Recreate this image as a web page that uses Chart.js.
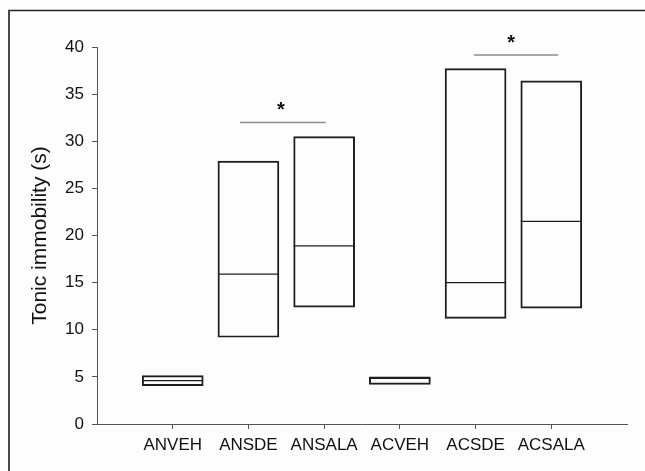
<!DOCTYPE html>
<html>
<head>
<meta charset="utf-8">
<script src="https://cdn.jsdelivr.net/npm/chart.js@4/dist/chart.umd.min.js"></script>
<style>
  html, body { margin: 0; padding: 0; background: #fdfdfd; overflow: hidden; }
  #wrap { width: 645px; height: 471px; position: relative; }
  #c { display: block; }
</style>
</head>
<body>
<div id="wrap"><canvas id="c" width="645" height="471"></canvas></div>
<script>
// Groups on the x axis (placed at positions 1..6)
const categories = ['ANVEH', 'ANSDE', 'ANSALA', 'ACVEH', 'ACSDE', 'ACSALA'];
// Box bottoms, tops and medians of tonic immobility (s)
const lowValues    = [4.07, 9.2, 12.4, 4.2, 11.2, 12.3];
const highValues   = [5.13, 27.9, 30.5, 5.0, 37.7, 36.4];
const medianValues = [4.6, 15.9, 18.9, 4.85, 15.0, 21.5];
// Y axis ticks
const yTickValues = [0, 5, 10, 15, 20, 25, 30, 35, 40];
// Significance bars: start, end, height
const sigStart = [1.89, 4.98];
const sigEnd   = [3.02, 6.09];
const sigLevel = [32.0, 39.15];
// Asterisks above the bars
const starX = [2.43, 5.47];
const starY = [33.7, 40.8];

const FONT = '"Liberation Sans", Arial, sans-serif';

const boxData = categories.map((c, i) => ({ x: i + 1, y: [lowValues[i], highValues[i]] }));
const medianData = categories.map((c, i) => ({ x: i + 1, y: medianValues[i] }));

const sigDatasets = sigLevel.map((lv, i) => ({
  type: 'line',
  data: [{ x: sigStart[i], y: lv }, { x: sigEnd[i], y: lv }],
  borderColor: '#8c8c8c',
  borderWidth: 1.5,
  pointRadius: 0,
  clip: false,
  order: 3
}));

const framePlugin = {
  id: 'frame',
  beforeDraw(chart) {
    const ctx = chart.ctx;
    ctx.save();
    ctx.fillStyle = '#fdfdfd';
    ctx.fillRect(0, 0, chart.width, chart.height);
    ctx.strokeStyle = '#222';
    ctx.lineWidth = 1.5;
    ctx.beginPath();
    ctx.moveTo(8, 10.5);
    ctx.lineTo(chart.width, 10.5);
    ctx.stroke();
    ctx.strokeStyle = '#4a4a4a';
    ctx.lineWidth = 2;
    ctx.beginPath();
    ctx.moveTo(9, 10);
    ctx.lineTo(9, chart.height);
    ctx.stroke();
    ctx.restore();
  }
};

const starPlugin = {
  id: 'stars',
  afterDatasetsDraw(chart) {
    const ctx = chart.ctx;
    const xs = chart.scales.x, ys = chart.scales.y;
    ctx.save();
    ctx.fillStyle = '#111';
    ctx.font = 'bold 20px ' + FONT;
    ctx.textAlign = 'center';
    ctx.textBaseline = 'middle';
    starX.forEach((sx, i) => {
      ctx.fillText('*', xs.getPixelForValue(sx), ys.getPixelForValue(starY[i]) + 4);
    });
    ctx.restore();
  }
};

new Chart(document.getElementById('c'), {
  type: 'bar',
  data: {
    datasets: [
      {
        type: 'bar',
        data: boxData,
        backgroundColor: 'rgba(0,0,0,0)',
        borderColor: '#1e1e1e',
        borderWidth: 1.3,
        borderSkipped: false,
        barThickness: 61,
        order: 2
      },
      {
        type: 'scatter',
        data: medianData,
        pointStyle: 'line',
        pointRadius: 30.5,
        pointHoverRadius: 30.5,
        borderColor: '#1e1e1e',
        borderWidth: 1.3,
        order: 1
      },
      ...sigDatasets
    ]
  },
  options: {
    responsive: false,
    animation: false,
    events: [],
    layout: { autoPadding: false, padding: { left: 28, top: 47, right: 18, bottom: 0 } },
    plugins: { legend: { display: false }, tooltip: { enabled: false } },
    scales: {
      x: {
        type: 'linear',
        min: 0,
        max: 7,
        offset: false,
        grid: { drawOnChartArea: false, offset: false, tickLength: 5, color: '#555' },
        border: { color: '#555', width: 1 },
        afterBuildTicks(scale) {
          scale.ticks = categories.map((c, i) => ({ value: i + 1 }));
        },
        afterFit(scale) {
          scale.height = 47;
        },
        ticks: {
          autoSkip: false,
          maxRotation: 0,
          padding: 6,
          color: '#111',
          font: { family: FONT, size: 17 },
          callback: (v) => categories[Math.round(v) - 1] || ''
        }
      },
      y: {
        type: 'linear',
        min: 0,
        max: 40,
        afterBuildTicks(scale) {
          scale.ticks = yTickValues.map(v => ({ value: v }));
        },
        afterFit(scale) {
          scale.width = 69;
        },
        grid: { drawOnChartArea: false, tickLength: 5, color: '#555' },
        border: { color: '#555', width: 1 },
        ticks: {
          padding: 8,
          color: '#111',
          font: { family: FONT, size: 17 }
        },
        title: {
          display: true,
          text: 'Tonic immobility (s)',
          color: '#111',
          padding: { top: 0, bottom: 0 },
          font: { family: FONT, size: 21 }
        }
      }
    }
  },
  plugins: [framePlugin, starPlugin]
});
</script>
</body>
</html>
